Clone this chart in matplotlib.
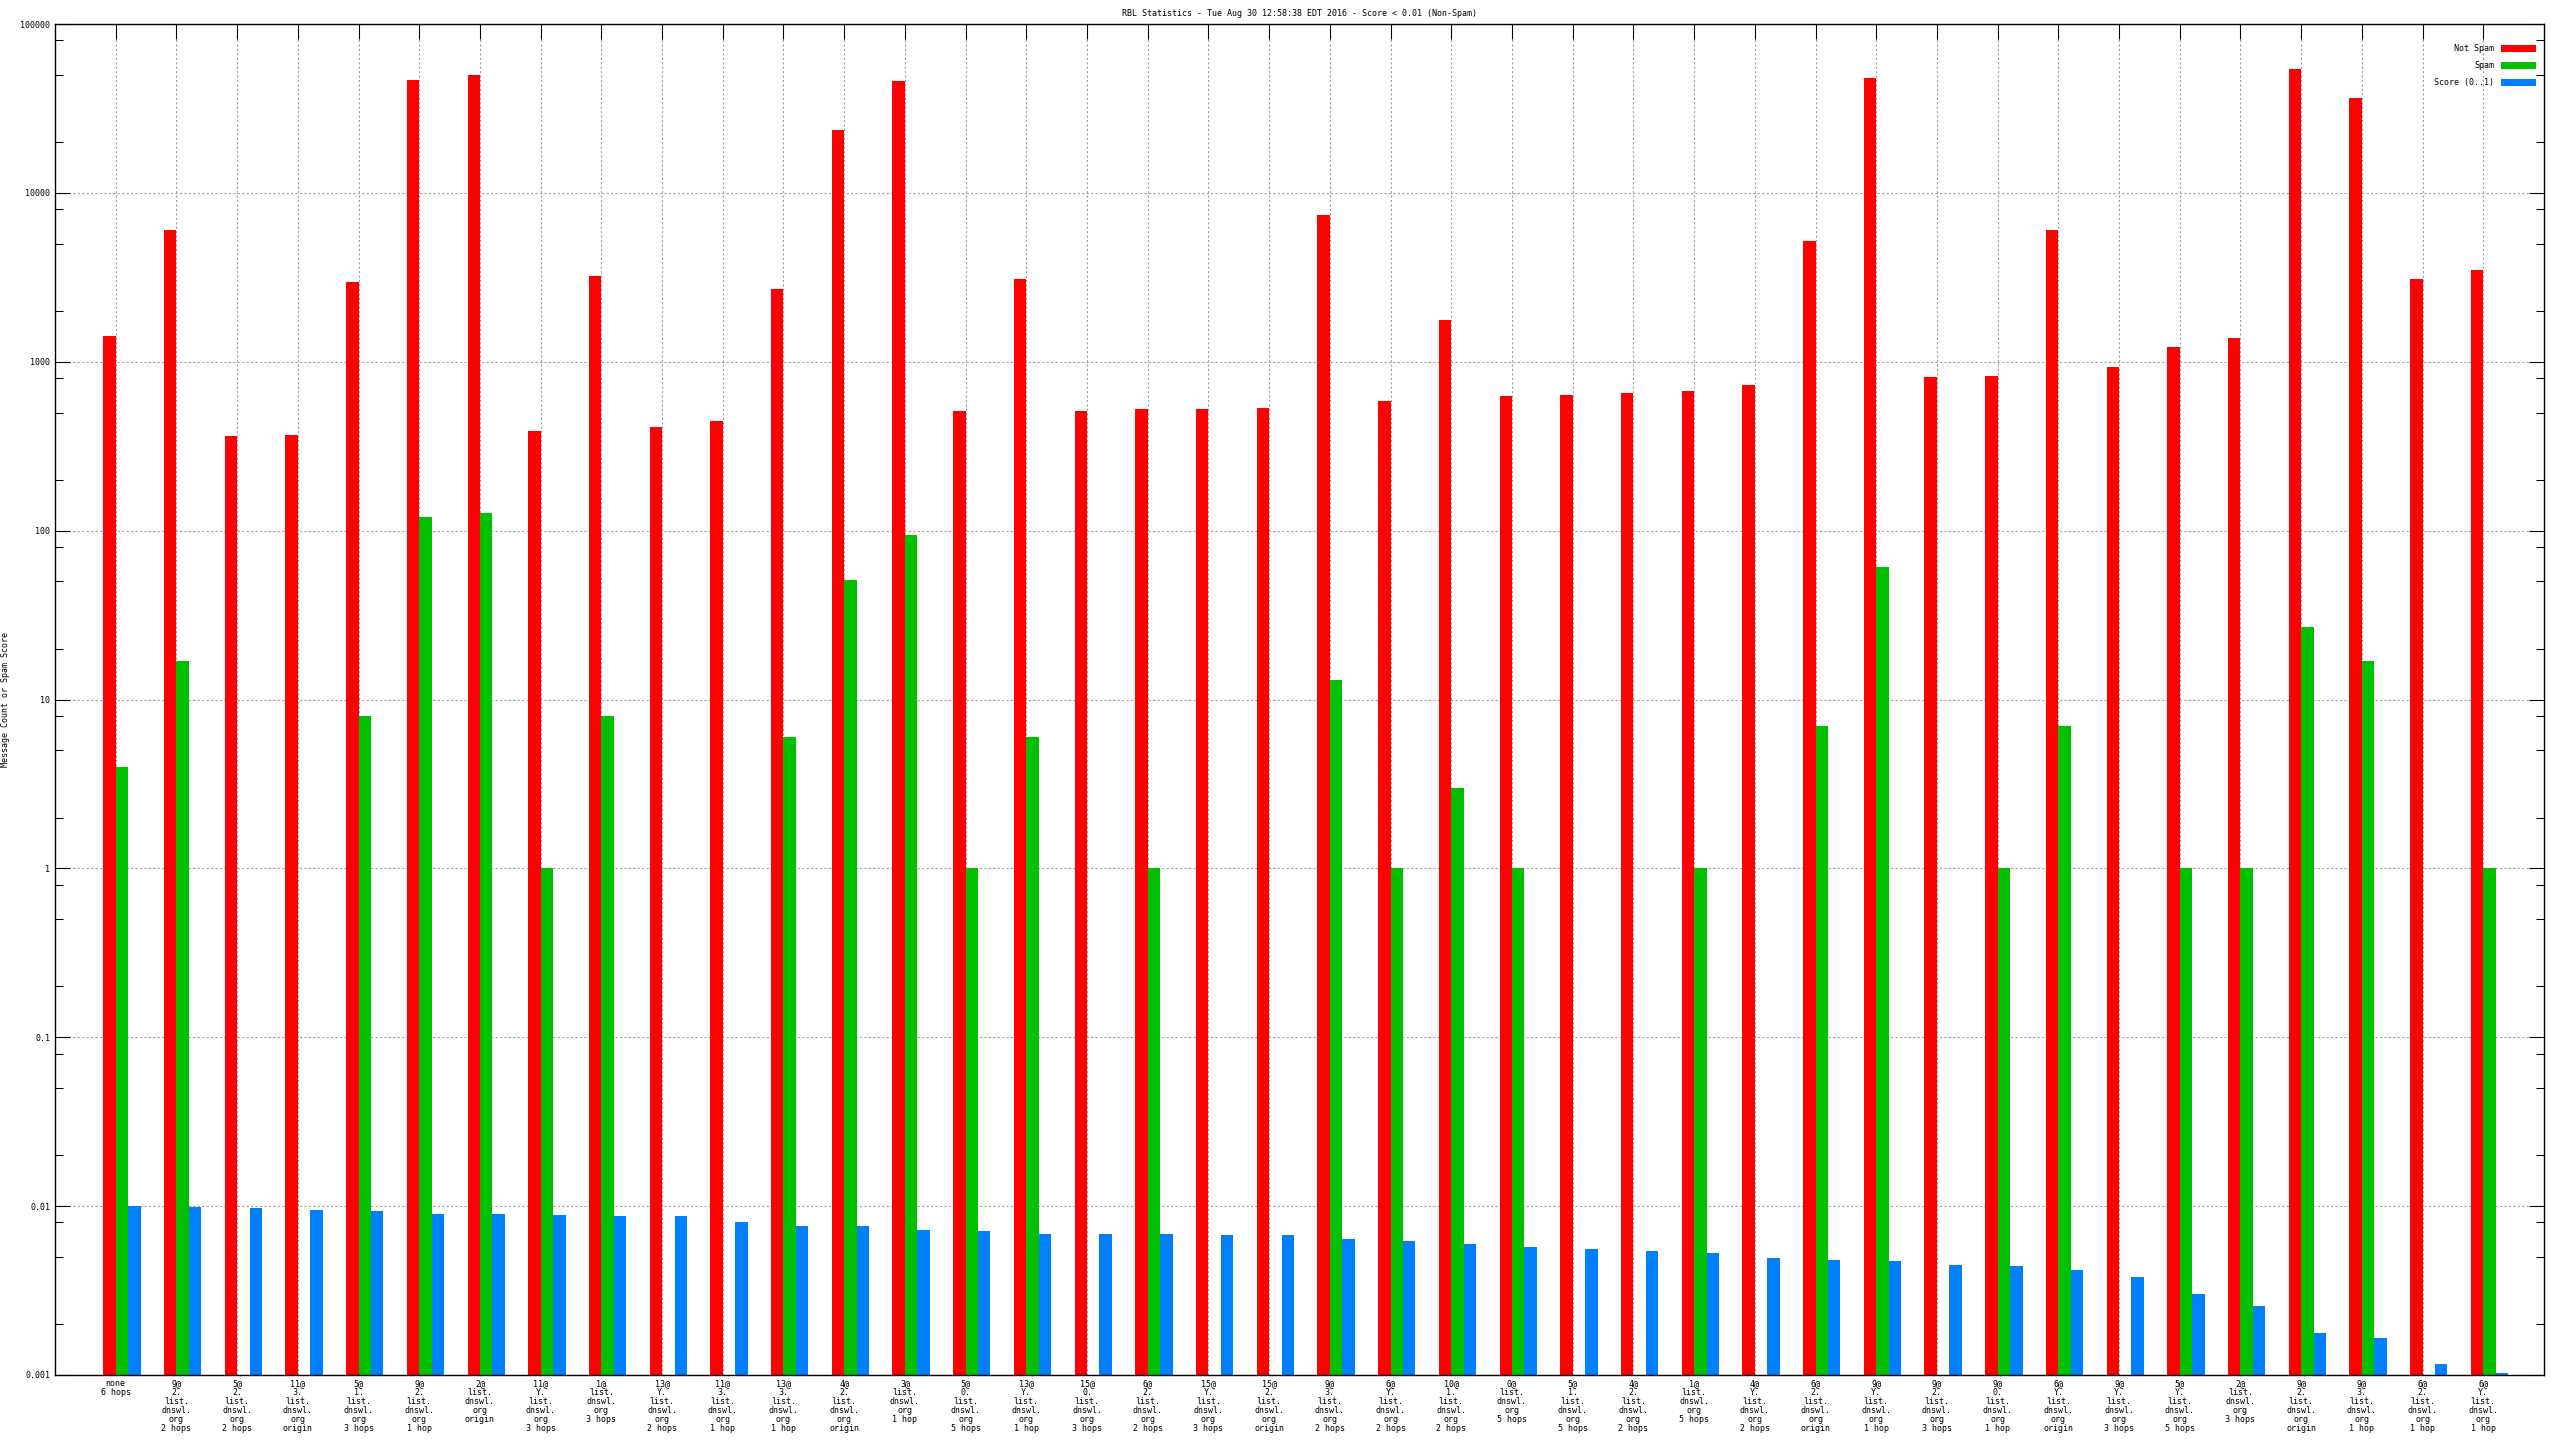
import numpy as np
import matplotlib
matplotlib.use('Agg')
import matplotlib.pyplot as plt
from matplotlib.ticker import LogLocator, FixedLocator, NullFormatter

# данные
title = 'RBL Statistics - Tue Aug 30 12:58:38 EDT 2016 - Score < 0.01 (Non-Spam)'

groups = [
    'none\n6 hops',
    '9@\n2.\nlist.\ndnswl.\norg\n2 hops',
    '5@\n2.\nlist.\ndnswl.\norg\n2 hops',
    '11@\n3.\nlist.\ndnswl.\norg\norigin',
    '5@\n1.\nlist.\ndnswl.\norg\n3 hops',
    '9@\n2.\nlist.\ndnswl.\norg\n1 hop',
    '2@\nlist.\ndnswl.\norg\norigin',
    '11@\nY.\nlist.\ndnswl.\norg\n3 hops',
    '1@\nlist.\ndnswl.\norg\n3 hops',
    '13@\nY.\nlist.\ndnswl.\norg\n2 hops',
    '11@\n3.\nlist.\ndnswl.\norg\n1 hop',
    '13@\n3.\nlist.\ndnswl.\norg\n1 hop',
    '4@\n2.\nlist.\ndnswl.\norg\norigin',
    '3@\nlist.\ndnswl.\norg\n1 hop',
    '5@\n0.\nlist.\ndnswl.\norg\n5 hops',
    '13@\nY.\nlist.\ndnswl.\norg\n1 hop',
    '15@\n0.\nlist.\ndnswl.\norg\n3 hops',
    '6@\n2.\nlist.\ndnswl.\norg\n2 hops',
    '15@\nY.\nlist.\ndnswl.\norg\n3 hops',
    '15@\n2.\nlist.\ndnswl.\norg\norigin',
    '9@\n3.\nlist.\ndnswl.\norg\n2 hops',
    '6@\nY.\nlist.\ndnswl.\norg\n2 hops',
    '10@\n1.\nlist.\ndnswl.\norg\n2 hops',
    '0@\nlist.\ndnswl.\norg\n5 hops',
    '5@\n1.\nlist.\ndnswl.\norg\n5 hops',
    '4@\n2.\nlist.\ndnswl.\norg\n2 hops',
    '1@\nlist.\ndnswl.\norg\n5 hops',
    '4@\nY.\nlist.\ndnswl.\norg\n2 hops',
    '6@\n2.\nlist.\ndnswl.\norg\norigin',
    '9@\nY.\nlist.\ndnswl.\norg\n1 hop',
    '9@\n2.\nlist.\ndnswl.\norg\n3 hops',
    '9@\n0.\nlist.\ndnswl.\norg\n1 hop',
    '6@\nY.\nlist.\ndnswl.\norg\norigin',
    '9@\nY.\nlist.\ndnswl.\norg\n3 hops',
    '5@\nY.\nlist.\ndnswl.\norg\n5 hops',
    '2@\nlist.\ndnswl.\norg\n3 hops',
    '9@\n2.\nlist.\ndnswl.\norg\norigin',
    '9@\n3.\nlist.\ndnswl.\norg\n1 hop',
    '6@\n2.\nlist.\ndnswl.\norg\n1 hop',
    '6@\nY.\nlist.\ndnswl.\norg\n1 hop',
]

not_spam = [1420, 6050, 365, 369, 2967, 46900, 50100, 391, 3240, 408,
            447, 2712, 23500, 45800, 510, 3100, 510, 522, 522, 534,
            7390, 583, 1775, 624, 638, 652, 667, 729, 5170, 48000,
            815, 825, 6050, 931, 1217, 1390, 54200, 36500, 3090, 3497]

nan = np.nan
spam = [4, 17, nan, nan, 8, 120, 128, 1, 8, nan,
        nan, 6, 51, 94, 1, 6, nan, 1, nan, nan,
        13, 1, 3, 1, nan, nan, 1, nan, 7, 61,
        nan, 1, 7, nan, 1, 1, 27, 17, nan, 1]

score = [0.01005, 0.00987, 0.0097, 0.0095, 0.0094, 0.0090, 0.0090, 0.0089, 0.0087, 0.0087,
         0.0080, 0.0076, 0.0076, 0.0072, 0.0071, 0.0068, 0.0068, 0.0068, 0.0067, 0.0067,
         0.0064, 0.0062, 0.0060, 0.0057, 0.0056, 0.0054, 0.0053, 0.0049, 0.0048, 0.0047,
         0.0045, 0.0044, 0.0042, 0.0038, 0.00303, 0.00257, 0.00178, 0.00166, 0.00116, 0.00103]

plt.rcParams['font.family'] = ['DejaVu Sans Mono']
plt.rcParams['font.size'] = 6

fig = plt.figure(figsize=(25.6, 14.4), dpi=100)
ax = fig.add_axes([55 / 2560, 65 / 1440, 2489 / 2560, 1351 / 1440])

x = np.arange(len(groups))
w = 0.205

ax.set_yscale('log')
ax.bar(x - w, not_spam, w, align='edge', color='#ff0000', label='Not Spam', zorder=2)
ax.bar(x, spam, w, align='edge', color='#00c000', label='Spam', zorder=2)
ax.bar(x + w, score, w, align='edge', color='#0080ff', label='Score (0..1)', zorder=2)

ax.set_xlim(-1, len(groups))
ax.set_ylim(0.001, 100000)

# оси и сетка
ax.set_xticks(x)
ax.set_xticklabels(groups, linespacing=1.0, va='top', ha='center')
ax.yaxis.set_major_locator(FixedLocator([10.0 ** k for k in range(-3, 6)]))
ax.set_yticklabels(['0.001', '0.01', '0.1', '1', '10', '100', '1000', '10000', '100000'])
ax.yaxis.set_minor_locator(LogLocator(base=10, subs=(2, 5, 8), numticks=30))
ax.yaxis.set_minor_formatter(NullFormatter())

ax.tick_params(axis='both', which='major', direction='in', length=10.5, width=0.75,
               top=True, right=True, labelsize=6)
ax.tick_params(axis='x', bottom=False, pad=3)
ax.tick_params(axis='y', which='minor', direction='in', length=5.5, width=0.75, right=True)
ax.tick_params(axis='y', pad=3.5)

ax.grid(True, which='major', color='#a0a0a0', linestyle=(0, (2, 2)), linewidth=0.8)
ax.set_axisbelow(True)
for s in ax.spines.values():
    s.set_linewidth(1.0)

ax.set_ylabel('Message Count or Spam Score', fontsize=6)
ax.yaxis.set_label_coords(-0.018, 0.5)

ax.set_title(title, fontsize=6, pad=6)

ax.legend(loc='upper right', bbox_to_anchor=(1.0, 1.0 - 12 / 1351),
          markerfirst=False, frameon=False, fontsize=6,
          handlelength=4.2, handleheight=1.0, labelspacing=0.95,
          handletextpad=0.8, borderaxespad=0.6)

fig.savefig('out.png', dpi=100)
